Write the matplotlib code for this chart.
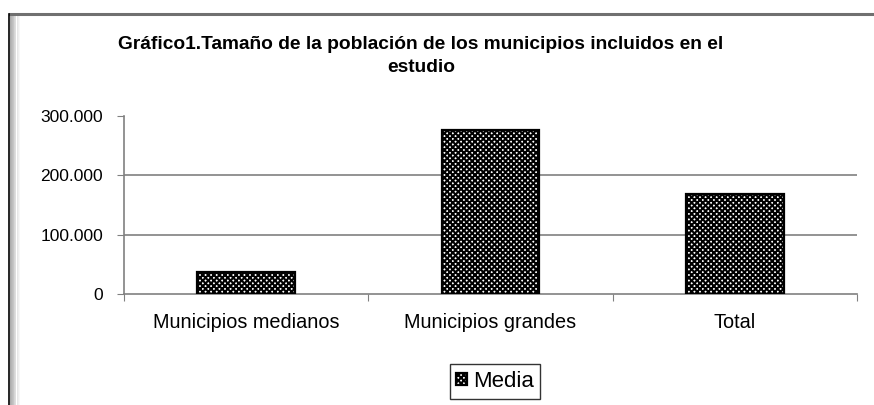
import matplotlib.pyplot as plt
from matplotlib.patches import Rectangle
from matplotlib.lines import Line2D
from matplotlib.ticker import FuncFormatter

plt.rcParams['font.family'] = ['Liberation Sans', 'DejaVu Sans']
plt.rcParams['hatch.linewidth'] = 1.5

categorias = ["Municipios medianos", "Municipios grandes", "Total"]
media = [37000, 277000, 169000]
yticks = [0, 100000, 200000, 300000]

fig = plt.figure(figsize=(8.74, 4.05), dpi=100)
W, H = 874, 405

# marco del grafico (linea superior, borde izquierdo con sombra)
fig.add_artist(Line2D([10 / W, 873 / W], [1 - 13.5 / H, 1 - 13.5 / H],
                      color='#707070', lw=2.2, transform=fig.transFigure))
fig.add_artist(Line2D([8.5 / W, 8.5 / W], [0, 1 - 13.5 / H],
                      color='black', lw=1.2, transform=fig.transFigure))
for i in range(10):
    g = 0.68 + i * 0.032
    fig.add_artist(Rectangle(((9.5 + i) / W, 0), 1 / W, 1 - 14.5 / H,
                             color=(g, g, g), transform=fig.transFigure, lw=0))

ax = fig.add_axes([124 / W, 1 - 294 / H, (857 - 124) / W, (294 - 116) / H])
x = range(len(categorias))
ax.bar(x, media, width=0.4, facecolor='white', edgecolor='black',
       hatch='xxxxxx', linewidth=1.6, label='Media', zorder=3)

ax.set_xlim(-0.5, 2.5)
ax.set_ylim(0, 300000)
ax.set_yticks(yticks)
ax.yaxis.set_major_formatter(FuncFormatter(lambda v, p: f"{int(v):,}".replace(",", ".")))
for v in yticks[1:3]:
    ax.axhline(v, color='#808080', lw=1.2, zorder=1)

ax.set_xticks([-0.5, 0.5, 1.5, 2.5])
ax.set_xticklabels([])
ax.set_xticks(list(x), minor=True)
ax.set_xticklabels(categorias, minor=True)
ax.tick_params(axis='x', which='minor', length=0, labelsize=14.3, pad=14)
ax.tick_params(axis='x', which='major', length=5, color='#808080')
ax.tick_params(axis='y', length=5, color='#808080', labelsize=12.5, pad=10)

for s in ['top', 'right']:
    ax.spines[s].set_visible(False)
for s in ['left', 'bottom']:
    ax.spines[s].set_color('#808080')
    ax.spines[s].set_linewidth(1.2)

fig.text(421 / W, 1 - 56 / H,
         "Gráfico1.Tamaño de la población de los municipios incluidos en el\nestudio",
         ha='center', va='center', fontsize=13.8, fontweight='bold', linespacing=1.4)

leg = ax.legend(loc='center', bbox_to_anchor=(495 / W, 1 - 381.5 / H),
                bbox_transform=fig.transFigure, fontsize=16, frameon=True,
                fancybox=False, handlelength=0.5, handleheight=0.5,
                handletextpad=0.25, borderpad=0.3)
leg.get_frame().set_edgecolor('black')
leg.get_frame().set_linewidth(1.0)

fig.savefig('out.png', dpi=100)
